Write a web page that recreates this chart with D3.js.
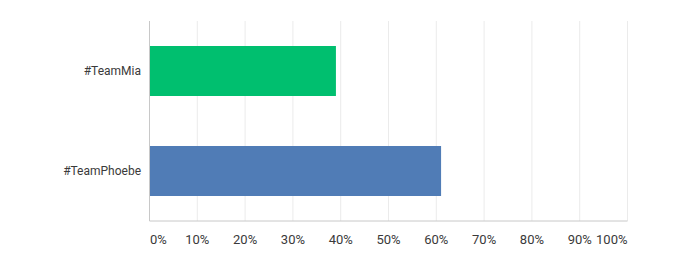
<!DOCTYPE html>
<html>
<head>
<meta charset="utf-8">
<script src="https://cdn.jsdelivr.net/npm/d3@7"></script>
<style>
  body { margin: 0; background: #fff; }
  text { font-family: "Roboto", "Open Sans", sans-serif; fill: #3a3a3a; }
</style>
</head>
<body>
<div id="chart"></div>
<script>
// DATA
const teams = ['#TeamMia', '#TeamPhoebe'];
const shares = [39, 61];
const barColors = ['#00bf6f', '#507cb6'];
const ticks = [0, 10, 20, 30, 40, 50, 60, 70, 80, 90, 100];

// DIMENSIONS
const width = 688, height = 266;
const plotLeft = 149.5, plotRight = 627.5, plotTop = 21, plotBottom = 221;

const svg = d3.select('#chart')
    .append('svg')
    .attr('width', width)
    .attr('height', height);

// SCALES
const x = d3.scaleLinear().domain([0, 100]).range([plotLeft, plotRight]);
const y = d3.scaleBand().domain(teams).range([plotTop, plotBottom])
    .paddingInner(0.5).paddingOuter(0.25);

// GRID
svg.append('g')
    .selectAll('line')
    .data(ticks.slice(1))
    .join('line')
    .attr('x1', d => x(d)).attr('x2', d => x(d))
    .attr('y1', plotTop).attr('y2', plotBottom)
    .attr('stroke', '#ebebeb')
    .attr('stroke-width', 1);

// BARS
svg.append('g')
    .selectAll('rect')
    .data(teams)
    .join('rect')
    .attr('x', x(0))
    .attr('y', d => y(d))
    .attr('width', (d, i) => x(shares[i]) - x(0))
    .attr('height', y.bandwidth())
    .attr('fill', (d, i) => barColors[i]);

// AXIS LINES
svg.append('line')
    .attr('x1', plotLeft).attr('x2', plotLeft)
    .attr('y1', plotTop).attr('y2', plotBottom)
    .attr('stroke', '#c8c8c8');
svg.append('line')
    .attr('x1', plotLeft).attr('x2', plotRight)
    .attr('y1', plotBottom).attr('y2', plotBottom)
    .attr('stroke', '#c8c8c8');

// X TICK LABELS
svg.append('g')
    .selectAll('text')
    .data(ticks)
    .join('text')
    .attr('x', d => d === 0 ? x(d) + 0.5 : x(d))
    .attr('y', 244)
    .attr('text-anchor', (d, i) => i === 0 ? 'start' : i === ticks.length - 1 ? 'end' : 'middle')
    .style('font-size', '13px')
    .text(d => d + '%');

// Y LABELS
svg.append('g')
    .selectAll('text')
    .data(teams)
    .join('text')
    .attr('x', 141)
    .attr('y', d => y(d) + y.bandwidth() / 2)
    .attr('dy', '0.35em')
    .attr('text-anchor', 'end')
    .style('font-size', '12px')
    .text(d => d);
</script>
</body>
</html>
